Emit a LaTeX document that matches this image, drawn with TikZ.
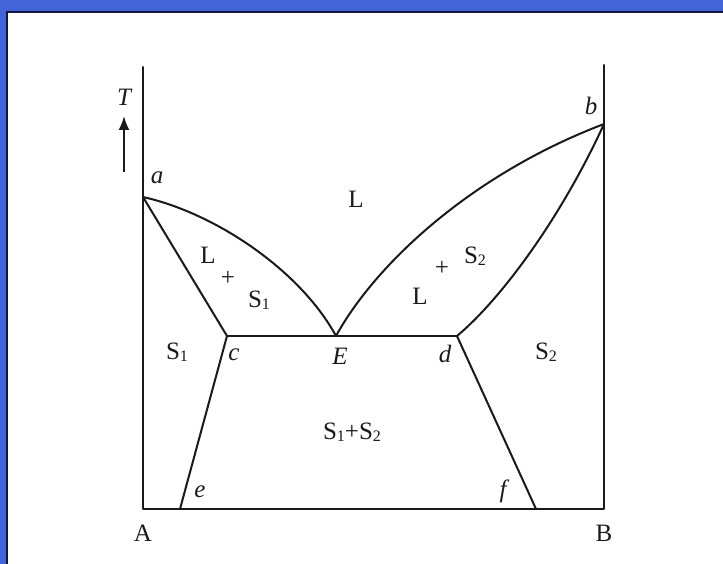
\documentclass[tikz,border=0pt]{standalone}
\usepackage{fontspec}
\setmainfont{Liberation Serif}
\usetikzlibrary{arrows.meta}
\definecolor{frameblue}{RGB}{66,100,214}
\definecolor{framedark}{RGB}{20,25,60}
\definecolor{ink}{RGB}{25,25,30}
\newcommand{\Sub}[2]{#1\raisebox{-0.2ex}{\fontsize{16}{16}\selectfont #2}}
\tikzset{
  curve/.style={draw=ink, line width=2pt, line cap=round, line join=round},
  lbl/.style={text=ink, font=\fontsize{25}{25}\selectfont, inner sep=0pt},
  ilbl/.style={text=ink, font=\fontsize{25}{25}\selectfont\itshape, inner sep=0pt},
}
\begin{document}
\begin{tikzpicture}[x=1pt,y=-1pt]
\useasboundingbox (0,0) rectangle (723,564);
\fill[frameblue] (0,0) rectangle (723,564);
\fill[white] (6,11) rectangle (723,564);
\draw[framedark, line width=2.2pt] (7,564) -- (7,12) -- (723,12);
% key points
\coordinate (a) at (143,197);
\coordinate (b) at (604,124);
\coordinate (c) at (227,336);
\coordinate (E) at (336,336);
\coordinate (d) at (457,336);
\coordinate (e) at (180,509);
\coordinate (f) at (536,509);
\coordinate (A) at (143,509);
\coordinate (B) at (604,509);
\coordinate (Atop) at (143,67);
\coordinate (Btop) at (604,65);
% axes
\draw[curve] (Atop) -- (A) -- (B) -- (Btop);
% curves
\draw[curve] (a) .. controls (215,213) and (300,270) .. (E);
\draw[curve] (a) -- (c);
\draw[curve] (E) .. controls (375,265) and (470,175) .. (b);
\draw[curve] (d) .. controls (500,300) and (560,220) .. (b);
\draw[curve] (c) -- (d);
\draw[curve] (c) -- (e);
\draw[curve] (d) -- (f);
% T arrow
\coordinate (t1) at (124,172);
\coordinate (t2) at (124,116);
\draw[draw=ink, fill=ink, line width=2pt, -{Latex[length=14pt,width=11pt]}] (t1) -- (t2);
\node[ilbl] (T) at (124,97) {T};
% labels
\node[ilbl] (la) at (157,178) {a};
\node[ilbl] (lb) at (591,106) {b};
\node[lbl] (L) at (356,199) {L};
\node[lbl] (L1) at (208,255) {L};
\node[lbl] (p1) at (228,278) {+};
\node[lbl] (S1a) at (259,300) {\Sub{S}{1}};
\node[lbl] (S2a) at (475,256) {\Sub{S}{2}};
\node[lbl] (p2) at (442,268) {+};
\node[lbl] (L2) at (420,296) {L};
\node[lbl] (S1b) at (177,352) {\Sub{S}{1}};
\node[ilbl] (lc) at (234,355) {c};
\node[ilbl] (lE) at (340,356) {E};
\node[ilbl] (ld) at (445,354) {d};
\node[lbl] (S2b) at (546,352) {\Sub{S}{2}};
\node[lbl] (S12) at (352,432) {\Sub{S}{1}+\Sub{S}{2}};
\node[ilbl] (le) at (200,492) {e};
\node[ilbl] (lf) at (503,491) {f};
\node[lbl] (lA) at (143,533) {A};
\node[lbl] (lB) at (604,533) {B};
\end{tikzpicture}
\end{document}
